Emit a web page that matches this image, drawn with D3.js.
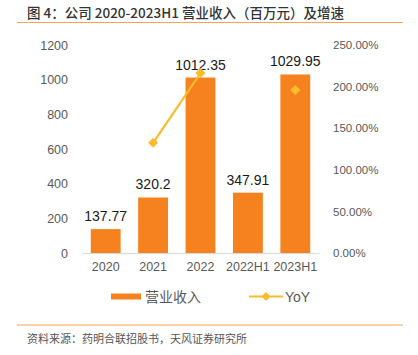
<!DOCTYPE html>
<html><head><meta charset="utf-8">
<script src="https://cdn.jsdelivr.net/npm/d3@7"></script>
<style>
html,body{margin:0;padding:0;background:#fff;}
svg{display:block;font-family:"Liberation Sans",Arial,"Noto Sans CJK SC",sans-serif;}
</style></head>
<body>
<script>
const categories = ["2020", "2021", "2022", "2022H1", "2023H1"];
const revenue = [137.77, 320.2, 1012.35, 347.91, 1029.95];
const revenueLabels = ["137.77", "320.2", "1012.35", "347.91", "1029.95"];
const yoy = [null, 1.324, 2.162, null, 1.960];
const leftTicks = [0, 200, 400, 600, 800, 1000, 1200];
const rightTicks = [0, 0.5, 1.0, 1.5, 2.0, 2.5];
const titleText = "图 4：公司 2020-2023H1 营业收入（百万元）及增速";
const sourceText = "资料来源：药明合联招股书，天风证券研究所";
const legendNames = ["营业收入", "YoY"];

const W = 418, H = 355;
const barColor = "#F5821F", lineColor = "#FBBC2C", ruleColor = "#F7A35C";
const svg = d3.select("body").append("svg").attr("width", W).attr("height", H);

// Title & rules
svg.append("text").attr("x", 27).attr("y", 17.5).attr("font-size", 13.5).attr("font-weight", 500)
  .attr("fill", "#333").attr("font-family", "'Noto Sans CJK SC','Liberation Sans',sans-serif").text(titleText);
svg.append("line").attr("x1", 17).attr("x2", 403).attr("y1", 22.5).attr("y2", 22.5).attr("stroke", ruleColor).attr("stroke-width", 1.2);
svg.append("line").attr("x1", 17).attr("x2", 403).attr("y1", 325).attr("y2", 325).attr("stroke", ruleColor).attr("stroke-width", 1.2);
svg.append("text").attr("x", 27).attr("y", 343).attr("font-size", 11).attr("fill", "#555")
  .attr("font-family", "'Noto Sans CJK SC',sans-serif").text(sourceText);

const x = d3.scaleBand().domain(categories).range([82, 319]).paddingInner(0.37).paddingOuter(0.185);
const yL = d3.scaleLinear().domain([0, 1200]).range([253, 45]);
const yR = d3.scaleLinear().domain([0, 2.5]).range([253, 45]);

// Left axis
const gL = svg.append("g").attr("transform", "translate(70,0)")
  .call(d3.axisLeft(yL).tickValues(leftTicks).tickSize(0).tickPadding(2).tickFormat(d3.format("d")));
gL.select(".domain").remove();
gL.selectAll("text").attr("font-size", 12.5).attr("fill", "#595959").attr("font-family", "'Liberation Sans',Arial,sans-serif");

// Right axis
const gR = svg.append("g").attr("transform", "translate(331,0)")
  .call(d3.axisRight(yR).tickValues(rightTicks).tickSize(0).tickPadding(2).tickFormat(d => (d * 100).toFixed(2) + "%"));
gR.select(".domain").remove();
gR.selectAll("text").attr("font-size", 11.5).attr("fill", "#595959").attr("font-family", "'Liberation Sans',Arial,sans-serif");

// Bars
svg.append("g").selectAll("rect").data(categories).join("rect")
  .attr("x", d => x(d)).attr("width", x.bandwidth())
  .attr("y", (d, i) => yL(revenue[i])).attr("height", (d, i) => yL(0) - yL(revenue[i]))
  .attr("fill", barColor);

// Bottom axis
const gX = svg.append("g").attr("transform", "translate(0,253)")
  .call(d3.axisBottom(x).tickSize(0).tickPadding(9));
gX.select(".domain").attr("stroke", "#d9d9d9").attr("stroke-width", 1);
gX.selectAll("text").attr("font-size", 12.5).attr("fill", "#595959").attr("font-family", "'Liberation Sans',Arial,sans-serif");

// Bar labels
svg.append("g").selectAll("text").data(categories).join("text")
  .attr("x", d => x(d) + x.bandwidth() / 2).attr("y", (d, i) => yL(revenue[i]) - 8)
  .attr("text-anchor", "middle").attr("font-size", 14).attr("fill", "#1a1a1a")
  .text((d, i) => revenueLabels[i]);

// YoY line
const pts = categories.map((c, i) => ({c, v: yoy[i]}));
const line = d3.line().defined(d => d.v !== null).x(d => x(d.c) + x.bandwidth() / 2).y(d => yR(d.v));
svg.append("path").datum(pts).attr("d", line).attr("fill", "none").attr("stroke", lineColor).attr("stroke-width", 2.2);
svg.append("g").selectAll("path").data(pts.filter(d => d.v !== null)).join("path")
  .attr("d", d3.symbol().type(d3.symbolSquare).size(50))
  .attr("transform", d => `translate(${x(d.c) + x.bandwidth() / 2},${yR(d.v)}) rotate(45)`)
  .attr("fill", lineColor);

// Legend
const lg = svg.append("g");
lg.append("rect").attr("x", 111).attr("y", 293.5).attr("width", 30).attr("height", 6).attr("fill", barColor);
lg.append("text").attr("x", 145).attr("y", 301.5).attr("font-size", 14).attr("fill", "#595959")
  .attr("font-family", "'Noto Sans CJK SC',sans-serif").text(legendNames[0]);
lg.append("line").attr("x1", 249).attr("x2", 283).attr("y1", 296.5).attr("y2", 296.5).attr("stroke", lineColor).attr("stroke-width", 2.2);
lg.append("path").attr("d", d3.symbol().type(d3.symbolSquare).size(40)).attr("transform", "translate(266,296.5) rotate(45)").attr("fill", lineColor);
lg.append("text").attr("x", 285).attr("y", 301.5).attr("font-size", 14).attr("fill", "#595959").text(legendNames[1]);
</script>
</body></html>
